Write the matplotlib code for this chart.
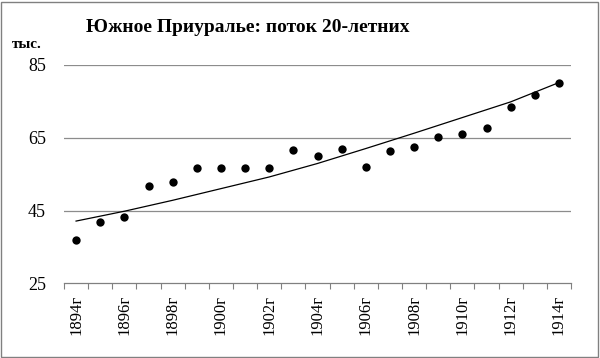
import numpy as np
import matplotlib
matplotlib.use("Agg")
import matplotlib.pyplot as plt
from matplotlib.patches import Rectangle

# Южное Приуралье: поток 20-летних (тыс.), точки + линия тренда

years = [1894, 1895, 1896, 1897, 1898, 1899, 1900, 1901, 1902, 1903, 1904,
         1905, 1906, 1907, 1908, 1909, 1910, 1911, 1912, 1913, 1914]
values = [37.0, 41.9, 43.2, 51.7, 52.8, 56.6, 56.6, 56.6, 56.6, 61.6, 59.9,
          62.0, 56.8, 61.4, 62.3, 65.3, 66.1, 67.7, 73.5, 76.8, 80.1]
trend_years = [1894, 1896, 1898, 1900, 1902, 1904, 1906, 1908, 1910, 1912, 1914]
trend = [42.1, 44.8, 47.8, 51.0, 54.2, 57.9, 62.0, 66.2, 70.5, 74.8, 80.1]
y_ticks = [25, 45, 65, 85]
title = "Южное Приуралье: поток 20-летних"
unit = "тыс."

plt.rcParams['font.family'] = ['Liberation Serif', 'DejaVu Serif']

fig = plt.figure(figsize=(6.0, 3.58), dpi=100)
ax = fig.add_axes([64 / 600, 74.6 / 358, 507 / 600, 218.7 / 358])

x = np.arange(len(years))
ax.scatter(x, values, s=36, color='black', zorder=3, linewidths=0)

tx = [years.index(y) for y in trend_years]
ax.plot(tx, trend, color='black', linewidth=0.9, zorder=2)

ax.set_xlim(-0.5, len(years) - 0.5)
ax.set_ylim(y_ticks[0], y_ticks[-1])
ax.set_yticks(y_ticks)
ax.set_yticklabels([str(v) for v in y_ticks], fontsize=13)
ax.tick_params(axis='y', length=0, pad=13)

ax.set_xticks(x[::2])
ax.set_xticklabels([f"{y}г" for y in years[::2]], rotation=90, fontsize=12)
ax.set_xticks(np.arange(-0.5, len(years), 1.0), minor=True)
ax.tick_params(axis='x', which='major', length=0, pad=8)
ax.tick_params(axis='x', which='minor', length=4, color='#808080', width=0.8)

for v in y_ticks[1:]:
    ax.axhline(v, color='#8c8c8c', linewidth=0.9, zorder=1)

for side in ['left', 'right', 'top']:
    ax.spines[side].set_visible(False)
ax.spines['bottom'].set_color('#808080')
ax.spines['bottom'].set_linewidth(0.9)

fig.text(248 / 600, 1 - 32 / 358, title, fontsize=14, fontweight='bold',
         ha='center', va='baseline')
fig.text(12 / 600, 1 - 48 / 358, unit, fontsize=11, fontweight='bold',
         ha='left', va='baseline')

fig.patches.append(Rectangle((1 / 600, 1 / 358), 597 / 600, 355 / 358,
                             transform=fig.transFigure, fill=False,
                             edgecolor='#808080', linewidth=1.0))

fig.savefig("out.png", dpi=100)
